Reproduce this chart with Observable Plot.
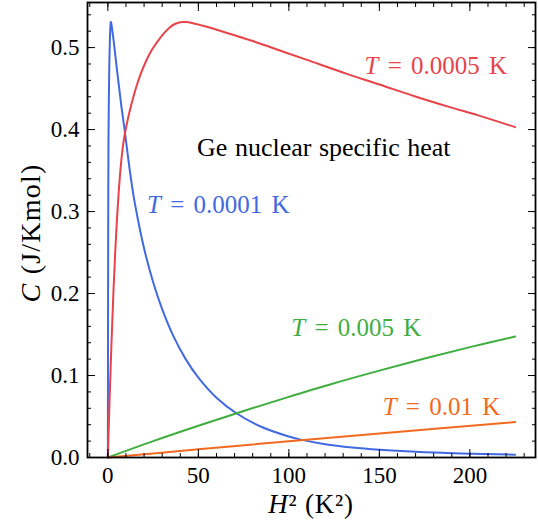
<!DOCTYPE html>
<html><head><meta charset="utf-8">
<script src="https://cdn.jsdelivr.net/npm/d3@7"></script>
<script src="https://cdn.jsdelivr.net/npm/@observablehq/plot@0.6"></script>
<style>body{margin:0;background:#fff}</style>
</head><body><div id="chart"></div>
<script>
// ---- data ----
const seriesNames = ["T = 0.0001 K", "T = 0.0005 K", "T = 0.005 K", "T = 0.01 K"];

const blueH2 = [0, 0.04, 0.08, 0.12, 0.16, 0.2, 0.24, 0.28, 0.32, 0.36, 0.41, 0.48, 0.56, 0.64, 0.72, 0.84, 0.96, 1.08, 1.2, 1.36, 1.48, 1.6, 1.72, 1.88, 2.08, 2.32, 2.8, 3.3, 3.8, 5.3, 6, 7.5, 9, 9.4, 10.5, 12, 13.5, 15, 18, 21, 25, 30, 36, 43, 50, 60, 71, 85, 100, 106, 120, 135, 150, 170, 195, 225];
const blueC  = [0, 0.074, 0.14, 0.198, 0.248, 0.29, 0.324, 0.352, 0.374, 0.39, 0.405, 0.422, 0.439, 0.454, 0.467, 0.483, 0.496, 0.506, 0.515, 0.5243, 0.5288, 0.5310, 0.5312, 0.5298, 0.5270, 0.5232, 0.5150, 0.5065, 0.4965, 0.468, 0.455, 0.428, 0.404, 0.397, 0.378, 0.352, 0.329, 0.309, 0.275, 0.246, 0.214, 0.181, 0.149, 0.12, 0.0974, 0.0729, 0.054, 0.0372, 0.0256, 0.0221, 0.0162, 0.0122, 0.0095, 0.007, 0.005, 0.0034];

const redH2 = [0, 1, 2, 3, 4, 5, 6, 7, 8, 9, 9.4, 10.3, 12, 14, 16, 18, 21, 24, 27, 30, 34, 37, 40, 43, 47, 52, 58, 70, 82, 95, 110, 132, 150, 169, 188, 205, 225];
const redC  = [0, 0.074, 0.14, 0.198, 0.248, 0.29, 0.324, 0.352, 0.374, 0.39, 0.395, 0.405, 0.422, 0.439, 0.454, 0.467, 0.483, 0.496, 0.506, 0.515, 0.5243, 0.5288, 0.5310, 0.5312, 0.5298, 0.5270, 0.5232, 0.5150, 0.5065, 0.4965, 0.485, 0.468, 0.455, 0.441, 0.428, 0.417, 0.403];

const greenH2 = [0, 25, 50, 75, 100, 125, 150, 175, 200, 225];
const greenC  = [0, 0.02, 0.0388, 0.0568, 0.074, 0.0906, 0.106, 0.1207, 0.1346, 0.1476];

const orangeH2 = [0, 50, 100, 150, 225];
const orangeC  = [0, 0.0100, 0.0198, 0.0294, 0.0432];

const xTicks = [0, 50, 100, 150, 200];
const xMinorTicks = [-10, 0, 10, 20, 30, 40, 50, 60, 70, 80, 90, 100, 110, 120, 130, 140, 150, 160, 170, 180, 190, 200, 210, 220, 230];
const yTicks = [0, 0.1, 0.2, 0.3, 0.4, 0.5];
const yMinorTicks = [0, 0.02, 0.04, 0.06, 0.08, 0.1, 0.12, 0.14, 0.16, 0.18, 0.2, 0.22, 0.24, 0.26, 0.28, 0.3, 0.32, 0.34, 0.36, 0.38, 0.4, 0.42, 0.44, 0.46, 0.48, 0.5, 0.52, 0.54];

const labelX = [61.0, 181.2, 137.3, 184.3];
const labelY = [0.3085, 0.478, 0.1585, 0.061];
const titleText = "Ge nuclear specific heat";
const titleX = 119.3, titleY = 0.378;

// ---- build tables ----
const seriesH2 = [blueH2, redH2, greenH2, orangeH2];
const seriesC = [blueC, redC, greenC, orangeC];
const rows = seriesNames.flatMap((name, i) => seriesH2[i].map((h, j) => ({series: name, h2: h, c: seriesC[i][j]})));
const labels = seriesNames.map((name, i) => ({series: name, x: labelX[i], y: labelY[i]}));

const colors = ["#4169e1", "#e8434a", "#3fae3f", "#f26a1f"];
const FONT = "'Liberation Serif', serif";

const svg = Plot.plot({
  width: 538, height: 529,
  marginLeft: 87, marginRight: 3, marginTop: 2, marginBottom: 72,
  style: {fontFamily: FONT, background: "white", color: "black"},
  x: {domain: [-11.25, 236.25]},
  y: {domain: [0, 0.555]},
  color: {domain: seriesNames, range: colors},
  marks: [
    Plot.line(rows, {x: "h2", y: "c", z: "series", stroke: "series", strokeWidth: 2, curve: "catmull-rom"}),
    Plot.text(labels, {x: "x", y: "y", text: "series", fill: "series", fontSize: 25, textAnchor: "middle", className: "tlabel"}),
    Plot.text([titleText], {x: titleX, y: titleY, text: d => d, fill: "black", fontSize: 26, textAnchor: "middle", className: "ttitle"}),
    // ticks (inward)
    Plot.axisX(xTicks, {anchor: "bottom", tickSize: -8, text: null, label: null}),
    Plot.axisX(xMinorTicks, {anchor: "bottom", tickSize: -4, text: null, label: null}),
    Plot.axisX(xTicks, {anchor: "top", tickSize: -8, text: null, label: null}),
    Plot.axisX(xMinorTicks, {anchor: "top", tickSize: -4, text: null, label: null}),
    Plot.axisY(yTicks, {anchor: "left", tickSize: -8, text: null, label: null}),
    Plot.axisY(yMinorTicks, {anchor: "left", tickSize: -4, text: null, label: null}),
    Plot.axisY(yTicks, {anchor: "right", tickSize: -8, text: null, label: null}),
    Plot.axisY(yMinorTicks, {anchor: "right", tickSize: -4, text: null, label: null}),
    // tick labels
    Plot.axisX(xTicks, {anchor: "bottom", tickSize: 0, tickPadding: 9, fontSize: 23, tickFormat: d => String(d), label: null}),
    Plot.axisY(yTicks, {anchor: "left", tickSize: 0, tickPadding: 8, fontSize: 23, tickFormat: d3.format(".1f"), label: null}),
    Plot.frame({stroke: "black", strokeWidth: 1.8})
  ]
});

// italic T in series labels, wider math spacing
d3.select(svg).selectAll("text").each(function () {
  const t = this.textContent;
  if (/^T = /.test(t)) {
    const sel = d3.select(this);
    sel.text("").attr("word-spacing", "3px");
    sel.append("tspan").attr("font-style", "italic").text("T");
    sel.append("tspan").text(t.slice(1));
  }
});
d3.select(svg).selectAll(".ttitle text").attr("word-spacing", "1px");

// axis titles
const s = d3.select(svg);
const xl = s.append("text").attr("x", 311).attr("y", 513).attr("text-anchor", "middle")
  .attr("font-size", 27).attr("letter-spacing", "0.8px").attr("font-family", FONT).attr("fill", "black");
xl.append("tspan").attr("font-style", "italic").text("H");
xl.append("tspan").text("² (K²)");
const yl = s.append("text").attr("transform", "translate(40,233) rotate(-90)").attr("text-anchor", "middle")
  .attr("font-size", 28).attr("letter-spacing", "1.2px").attr("font-family", FONT).attr("fill", "black");
yl.append("tspan").attr("font-style", "italic").text("C");
yl.append("tspan").text(" (J/Kmol)");

document.getElementById("chart").appendChild(svg);
</script>
</body></html>
